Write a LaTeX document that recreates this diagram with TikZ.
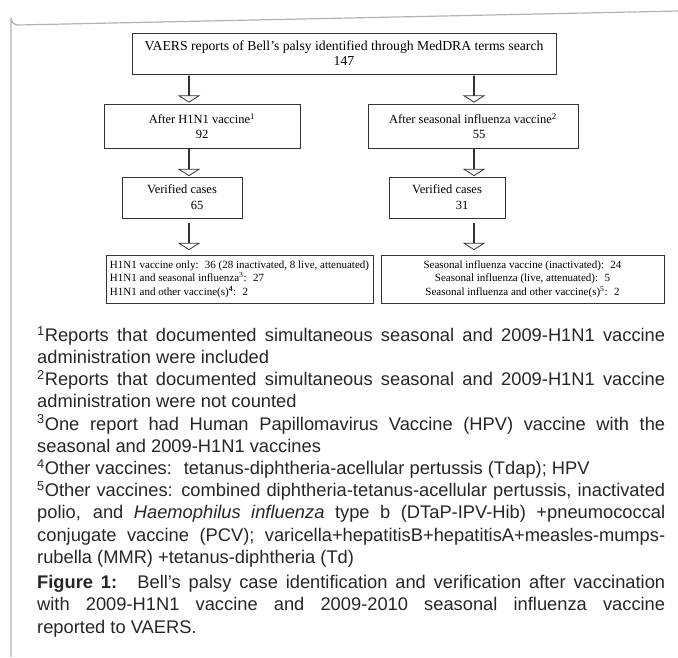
\documentclass[tikz,border=0pt]{standalone}
\usepackage{fontspec}
\setmainfont{Liberation Serif}
\newfontfamily\notefont{Liberation Sans}
\usetikzlibrary{shapes,arrows,positioning,calc}

\begin{document}
\begin{tikzpicture}[x=1pt,y=-1pt,
    box/.style={draw=black!80, line width=0.9pt, inner sep=2pt, align=center, minimum height=41pt},
    blockarrow/.style={draw=black!80, line width=0.8pt, single arrow, rotate=-90,
        minimum width=20pt, minimum height=26pt, single arrow head extend=9pt,
        single arrow tip angle=115, inner sep=0pt},
    note/.style={inner sep=0pt, text width=628pt, align=justify, text=black!85,
        font=\notefont\fontsize{18.3}{22.2}\selectfont}]
    \useasboundingbox (0,0) rectangle (678,657);

    % outer frame
    \draw[black!30, line width=1.2pt] (11,657) -- (11,18) arc[start angle=180, end angle=90, radius=7] -- (679,11);

    % columns for the block arrows
    \coordinate (colL) at (189,0);
    \coordinate (colR) at (474,0);

    % boxes
    \node[box, minimum width=424pt, font=\fontsize{13.7}{15}\selectfont] (vaers) at (344,53.5)
        {VAERS reports of Bell’s palsy identified through MedDRA terms search\\147};
    \node[box, minimum width=196pt, minimum height=44pt, font=\fontsize{12.5}{15}\selectfont] (h1n1) at (202,126)
        {After H1N1 vaccine\textsuperscript{1}\\92};
    \node[box, minimum width=210pt, minimum height=44pt, font=\fontsize{12.5}{15}\selectfont] (seas) at (473,126)
        {After seasonal influenza vaccine\textsuperscript{2}\\\hspace*{12pt}55};
    \node[box, minimum width=120pt, font=\fontsize{12.5}{16}\selectfont] (verL) at (182,197.5)
        {Verified cases\\\hspace*{30pt}65};
    \node[box, minimum width=116pt, font=\fontsize{12.5}{16}\selectfont] (verR) at (447,197.5)
        {Verified cases\\\hspace*{30pt}31};
    \node[box, minimum width=267pt, minimum height=48pt, align=left, font=\fontsize{11}{13.5}\selectfont] (resL) at (239.5,279)
        {H1N1 vaccine only:~ 36 (28 inactivated, 8 live, attenuated)\\
         H1N1 and seasonal influenza\textsuperscript{3}:~ 27\\
         H1N1 and other vaccine(s)\textsuperscript{\textbf{4}}:~ 2};
    \node[box, minimum width=283pt, minimum height=48pt, font=\fontsize{11}{13.5}\selectfont] (resR) at (522.5,279)
        {Seasonal influenza vaccine (inactivated):~ 24\\
         Seasonal influenza (live, attenuated):~ 5\\
         Seasonal influenza and other vaccine(s)\textsuperscript{5}:~ 2};

    % block arrows between the rows
    \node[blockarrow] (aL1) at ($(vaers.south -| colL)!.5!(h1n1.north -| colL)$) {};
    \node[blockarrow] (aR1) at ($(vaers.south -| colR)!.5!(seas.north -| colR)$) {};
    \node[blockarrow] (aL2) at ($(h1n1.south -| colL)!.5!(verL.north -| colL)$) {};
    \node[blockarrow] (aR2) at ($(seas.south -| colR)!.5!(verR.north -| colR)$) {};
    \node[blockarrow] (aL3) at ($(verL.south -| colL)!.5!(resL.north -| colL)$) {};
    \node[blockarrow] (aR3) at ($(verR.south -| colR)!.5!(resR.north -| colR)$) {};

    % footnotes
    \node[note, anchor=north west] (notes) at (37,326) {%
        \textsuperscript{1}Reports that documented simultaneous seasonal and 2009-H1N1 vaccine\linebreak
        administration were included\par
        \textsuperscript{2}Reports that documented simultaneous seasonal and 2009-H1N1 vaccine\linebreak
        administration were not counted\par
        \textsuperscript{3}One report had Human Papillomavirus Vaccine (HPV) vaccine with the\linebreak
        seasonal and 2009-H1N1 vaccines\par
        \textsuperscript{4}Other vaccines:~ tetanus-diphtheria-acellular pertussis (Tdap); HPV\par
        \textsuperscript{5}Other vaccines: combined diphtheria-tetanus-acellular pertussis, inactivated\linebreak
        polio, and \textit{Haemophilus influenza} type b (DTaP-IPV-Hib) +pneumococcal\linebreak
        conjugate vaccine (PCV); varicella+hepatitisB+hepatitisA+measles-mumps-\linebreak
        rubella (MMR) +tetanus-diphtheria (Td)};

    % caption
    \node[note, below=8pt of notes.south west, anchor=north west] (caption) {%
        \textbf{Figure 1:}~ Bell’s palsy case identification and verification after vaccination\linebreak
        with 2009-H1N1 vaccine and 2009-2010 seasonal influenza vaccine\linebreak
        reported to VAERS.};
\end{tikzpicture}
\end{document}
